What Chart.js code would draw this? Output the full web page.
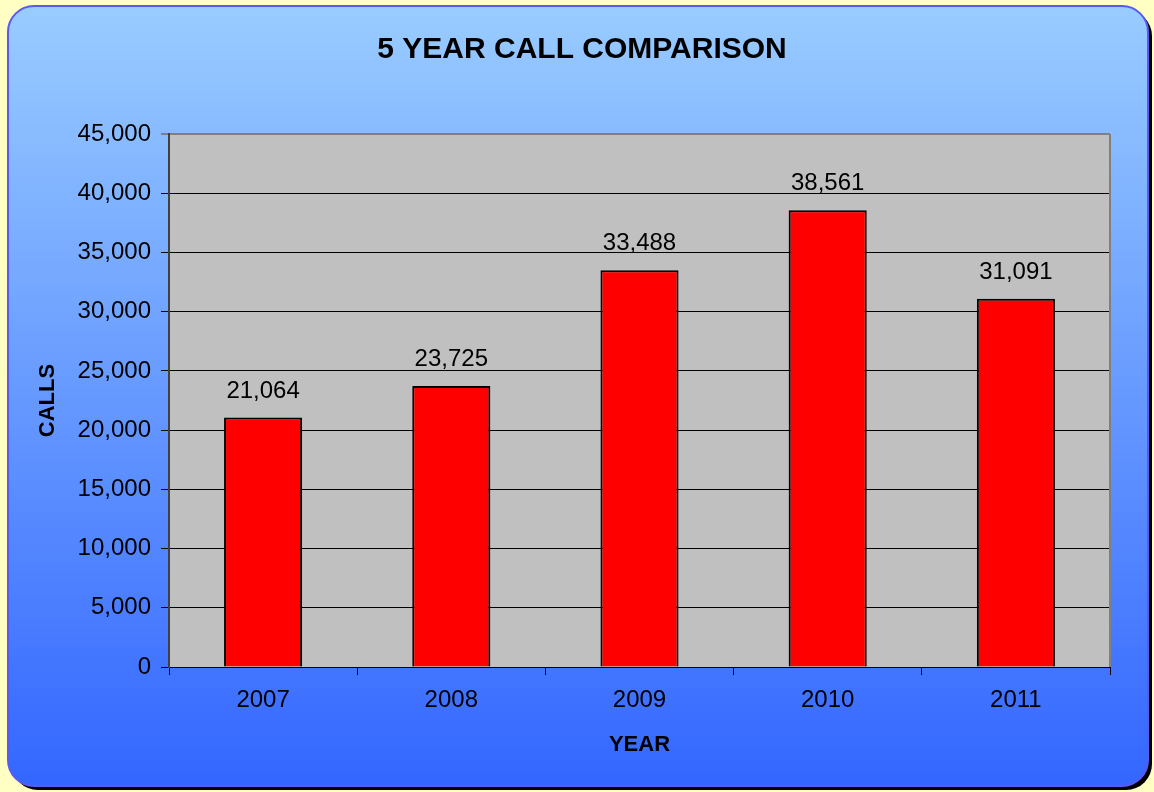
<!DOCTYPE html>
<html>
<head>
<meta charset="utf-8">
<script src="https://cdn.jsdelivr.net/npm/chart.js@4"></script>
<style>
  html, body { margin: 0; padding: 0; background: #ffffc4; }
  #wrap { width: 1154px; height: 792px; }
</style>
</head>
<body>
<div id="wrap"><canvas id="callChart" width="1154" height="792"></canvas></div>
<script>
const years = ['2007', '2008', '2009', '2010', '2011'];
const calls = [21064, 23725, 33488, 38561, 31091];
const chartTitle = '5 YEAR CALL COMPARISON';
const yMax = 45000;
const yStep = 5000;

const font = "'Liberation Sans', Arial, sans-serif";

// rounded blue panel, grey plot background and the title
const panelPlugin = {
  id: 'panel',
  beforeDraw(chart) {
    const ctx = chart.ctx;
    const a = chart.chartArea;
    ctx.save();
    ctx.fillStyle = '#ffffc4';
    ctx.fillRect(0, 0, chart.width, chart.height);
    // shadow
    ctx.fillStyle = '#000';
    ctx.beginPath();
    ctx.roundRect(12, 10, 1140, 780, 26);
    ctx.fill();
    // panel
    const g = ctx.createLinearGradient(0, 6, 0, 786);
    g.addColorStop(0, '#99ccff');
    g.addColorStop(1, '#3366ff');
    ctx.fillStyle = g;
    ctx.beginPath();
    ctx.roundRect(8, 6, 1140, 780, 26);
    ctx.fill();
    ctx.strokeStyle = '#5a5af0';
    ctx.lineWidth = 2;
    ctx.stroke();
    // plot area
    ctx.fillStyle = '#c0c0c0';
    ctx.fillRect(a.left, a.top, a.right - a.left, a.bottom - a.top);
    ctx.restore();
  },
  afterDraw(chart) {
    const ctx = chart.ctx;
    const a = chart.chartArea;
    ctx.save();
    ctx.strokeStyle = '#808080';
    ctx.lineWidth = 2;
    ctx.beginPath();
    ctx.moveTo(a.right, a.top);
    ctx.lineTo(a.right, a.bottom);
    ctx.stroke();
    // title (centred on the panel, not the chart box)
    ctx.font = 'bold 30px ' + font;
    ctx.fillStyle = '#000';
    ctx.textAlign = 'center';
    ctx.textBaseline = 'middle';
    ctx.fillText(chartTitle, 582, 50);
    ctx.restore();
  }
};

// value labels above bars
const valueLabels = {
  id: 'valueLabels',
  afterDatasetsDraw(chart) {
    const ctx = chart.ctx;
    const meta = chart.getDatasetMeta(0);
    ctx.save();
    ctx.font = '24px ' + font;
    ctx.fillStyle = '#000';
    ctx.textAlign = 'center';
    ctx.textBaseline = 'alphabetic';
    meta.data.forEach((bar, i) => {
      ctx.fillText(calls[i].toLocaleString('en-US'), bar.x, bar.y - 20);
    });
    ctx.restore();
  }
};

new Chart(document.getElementById('callChart'), {
  type: 'bar',
  data: {
    labels: years,
    datasets: [{
      data: calls,
      backgroundColor: '#ff0000',
      borderColor: '#000000',
      borderWidth: 2,
      categoryPercentage: 1,
      barPercentage: 0.415
    }]
  },
  options: {
    responsive: false,
    animation: false,
    layout: { padding: { left: 0, right: 44, top: 134, bottom: 0 } },
    plugins: {
      legend: { display: false },
      tooltip: { enabled: false },
      title: { display: false }
    },
    scales: {
      x: {
        afterFit(scale) { scale.height = 125; },
        grid: {
          offset: true,
          drawOnChartArea: false,
          drawTicks: true,
          tickLength: 8,
          color: '#000'
        },
        border: { color: '#000', width: 1 },
        ticks: {
          color: '#000',
          padding: 11,
          font: { family: font, size: 24 }
        },
        title: {
          display: true,
          text: 'YEAR',
          color: '#000',
          font: { family: font, size: 22, weight: 'bold' },
          padding: { top: 0, bottom: 34 }
        }
      },
      y: {
        min: 0,
        max: yMax,
        afterFit(scale) { scale.width = 169; },
        grid: {
          tickLength: 8,
          color: (c) => (c.tick && c.tick.value === yMax ? '#808080' : '#000'),
          lineWidth: (c) => (c.tick && c.tick.value === yMax ? 2 : 1)
        },
        border: { color: '#404040', width: 2 },
        ticks: {
          stepSize: yStep,
          color: '#000',
          padding: 10,
          font: { family: font, size: 24 },
          callback: (v) => v.toLocaleString('en-US')
        },
        title: {
          display: true,
          text: 'CALLS',
          color: '#000',
          font: { family: font, size: 22, weight: 'bold' },
          padding: { top: 35, bottom: 0 }
        }
      }
    }
  },
  plugins: [panelPlugin, valueLabels]
});
</script>
</body>
</html>
